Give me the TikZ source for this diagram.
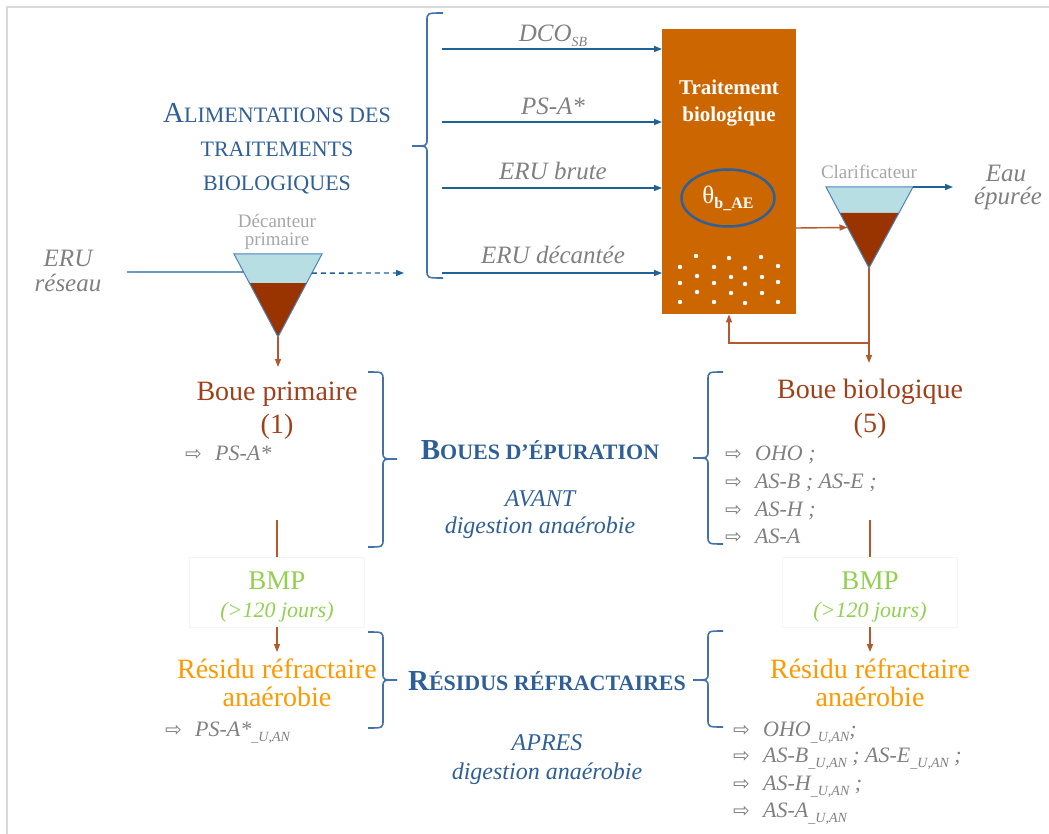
\documentclass[tikz,border=0pt]{standalone}
\usepackage{fontspec}
\setmainfont{Liberation Serif}
\newfontfamily\symfont{DejaVu Sans}
\usetikzlibrary{arrows.meta,shapes.geometric,calc}
\definecolor{framegray}{HTML}{D9D9D9}
\definecolor{titleblue}{HTML}{2F5F97}
\definecolor{arrblue}{HTML}{1F6396}
\definecolor{bracecol}{HTML}{4472A8}
\definecolor{txtgray}{HTML}{808080}
\definecolor{ltgray}{HTML}{A6A6A6}
\definecolor{boxorange}{HTML}{CC6600}
\definecolor{ellblue}{HTML}{2F6196}
\definecolor{lightblue}{HTML}{B7DEE3}
\definecolor{mud}{HTML}{993300}
\definecolor{brtext}{HTML}{A0401A}
\definecolor{brline}{HTML}{B4582E}
\definecolor{bmpgreen}{HTML}{92D050}
\definecolor{resorange}{HTML}{FF9900}
\definecolor{outlineblue}{HTML}{4F81BD}
\definecolor{bmpframe}{HTML}{F5F5F5}
\newcommand{\fs}[2]{\fontsize{#1}{#2}\selectfont}
\newcommand{\Bc}[1]{{\fontsize{29}{30}\selectfont #1}}
\newcommand{\lowsub}[1]{\raisebox{-5pt}{\fs{14}{14}#1}}
\newcommand{\itm}[1]{\makebox[30pt][l]{\symfont\upshape\fs{20}{20}⇨}#1}
\newcommand{\BraceP}[6]{\draw[brace] (#1,#4) .. controls (#2,#4) .. (#2,#4+8) -- (#2,#5-7) .. controls (#2,#5) .. (#3,#5) .. controls (#2,#5) .. (#2,#5+7) -- (#2,#6-8) .. controls (#2,#6) .. (#1,#6);}
\tikzset{
  base/.style={anchor=base, inner sep=0pt},
  lbl/.style={base, text=txtgray, font=\fs{25}{30}\itshape},
  ttl/.style={base, text=titleblue, font=\fs{22}{30}},
  ttlb/.style={base, text=titleblue, font=\fs{22}{30}\bfseries},
  subt/.style={base, text=titleblue, font=\fs{24}{30}\itshape},
  brn/.style={base, text=brtext, font=\fs{28}{30}},
  grn/.style={base, text=bmpgreen, font=\fs{27}{30}},
  grni/.style={base, text=bmpgreen, font=\fs{22}{30}\itshape},
  org/.style={base, text=resorange, font=\fs{28}{30}},
  item/.style={anchor=base west, inner sep=0pt, text=txtgray, font=\fs{22}{26}\itshape},
  small/.style={base, text=ltgray, font=\fs{19}{22}},
  feed/.style={draw=arrblue, line width=1.4pt, -{Triangle[length=8pt,width=6pt]}},
  sludge/.style={draw=brline, line width=1.4pt, -{Triangle[length=8pt,width=6pt]}},
  sludgeline/.style={draw=brline, line width=1.4pt},
  brace/.style={draw=bracecol, line width=1.6pt},
  tank/.style={draw=outlineblue, line width=1pt},
  bmpbox/.style={draw=bmpframe, line width=0.6pt, minimum width=175pt, minimum height=70pt, inner sep=0pt}
}
\begin{document}
\begin{tikzpicture}[x=1pt,y=-1pt]
\useasboundingbox (0,0) rectangle (1049,834);
\draw[framegray, line width=2pt] (1049,7) -- (7,7) -- (7,834);

% ---------- title ----------
\node[ttl] (alim1) at (277,123) {\Bc{A}LIMENTATIONS DES};
\node[ttl] (alim2) at (277,157) {TRAITEMENTS};
\node[ttl] (alim3) at (277,191) {BIOLOGIQUES};
\BraceP{443}{427}{412}{13}{146}{278}

% ---------- biological treatment box ----------
\node[fill=boxorange, minimum width=134pt, minimum height=285pt, inner sep=0pt, anchor=north west] (box) at (662,29) {};
\node[base, text=white, font=\fs{21}{24}\bfseries] (tb1) at (729,95) {Traitement};
\node[base, text=white, font=\fs{21}{24}\bfseries] (tb2) at (729,122) {biologique};
\node[ellipse, draw=ellblue, line width=2.5pt, minimum width=93pt, minimum height=57pt, inner sep=0pt, text=white, font=\fs{25}{25}] (theta) at (728,198) {θ\raisebox{-5pt}{\fs{16}{16}\bfseries b\_AE}};
\foreach \p in {(696,256),(729,258),(761,257),(680,267),(714,267),(745,268),(778,266),(697,276),(731,277),(762,277),(680,283),(714,283),(745,284),(778,282),(697,292),(731,293),(762,293),(680,302),(714,302),(745,303),(778,302)}
  \fill[white] \p circle (2.2pt);

% ---------- feeds ----------
\coordinate (f1) at (442,49);
\coordinate (f2) at (442,122);
\coordinate (f3) at (442,188);
\coordinate (f4) at (442,273);
\draw[feed] (f1) -- (f1 -| box.west);
\draw[feed] (f2) -- (f2 -| box.west);
\draw[feed] (f3) -- (f3 -| box.west);
\draw[feed] (f4) -- (f4 -| box.west);
\node[lbl] (l1) at (553,42) {DCO\lowsub{SB}};
\node[lbl] (l2) at (553,115) {PS-A*};
\node[lbl] (l3) at (553,180) {ERU brute};
\node[lbl] (l4) at (553,264) {ERU décantée};

% ---------- primary settler ----------
\coordinate (d1) at (234,254);
\coordinate (d2) at (322,254);
\coordinate (d3) at (278,337);
\fill[lightblue] (d1) -- (d2) -- ($(d2)!0.35!(d3)$) -- ($(d1)!0.35!(d3)$) -- cycle;
\fill[mud] ($(d1)!0.35!(d3)$) -- ($(d2)!0.35!(d3)$) -- (d3) -- cycle;
\draw[tank] (d1) -- (d2) -- (d3) -- cycle;
\node[small] (dec1) at (277,228) {Décanteur};
\node[small] (dec2) at (277,246) {primaire};
\node[lbl] (eru1) at (68,267) {ERU};
\node[lbl] (eru2) at (68,291) {réseau};
\coordinate (in0) at (127,272);
\draw[draw=arrblue, line width=1.4pt] (in0) -- ($(d1)!0.217!(d3)$);
\coordinate (dsh) at (404,273);
\draw[feed, dash pattern=on 5pt off 4pt] ($(d2)!0.23!(d3)$) -- (dsh);
\coordinate (bp) at (278,367);
\draw[sludge] (d3) -- (bp);

% ---------- clarifier ----------
\coordinate (c1) at (826,187);
\coordinate (c2) at (913,187);
\coordinate (c3) at (869,268);
\fill[lightblue] (c1) -- (c2) -- ($(c2)!0.32!(c3)$) -- ($(c1)!0.32!(c3)$) -- cycle;
\fill[mud] ($(c1)!0.32!(c3)$) -- ($(c2)!0.32!(c3)$) -- (c3) -- cycle;
\draw[tank] (c1) -- (c2) -- (c3) -- cycle;
\node[small] (clar) at (869,179) {Clarificateur};
\coordinate (eau) at (953,187);
\draw[feed] (c2) -- (eau);
\node[lbl] (eau1) at (1006,182) {Eau};
\node[lbl] (eau2) at (1008,205) {épurée};
\coordinate (bx) at (796,228);
\draw[sludge] (bx) -- ($(c1)!0.5!(c3)$);
\coordinate (bb) at (869,363);
\coordinate (jn) at (869,343);
\coordinate (rc) at (729,343);
\draw[sludge] (c3) -- (bb);
\draw[sludge] (jn) -- (rc) -- (rc |- box.south);

% ---------- sludges before digestion ----------
\node[brn] (bp1) at (277,400) {Boue primaire};
\node[brn] (bp2) at (277,433) {(1)};
\node[item] (bpi) at (185,460) {\itm{PS-A*}};
\node[brn] (bb1) at (870,398) {Boue biologique};
\node[brn] (bb2) at (870,432) {(5)};
\node[item] (bbi1) at (725,460) {\itm{OHO ;}};
\node[item] (bbi2) at (725,488) {\itm{AS-B ; AS-E ;}};
\node[item] (bbi3) at (725,516) {\itm{AS-H ;}};
\node[item] (bbi4) at (725,543) {\itm{AS-A}};
\BraceP{368}{383}{397}{372}{459}{547}
\BraceP{723}{708}{693}{372}{458}{544}
\node[ttlb] (boues) at (540,459) {\Bc{B}OUES D’ÉPURATION};
\node[subt] (av1) at (540,506) {AVANT};
\node[subt] (av2) at (540,533) {digestion anaérobie};

% ---------- BMP ----------
\node[bmpbox] (bmpL) at (277,592) {};
\node[bmpbox] (bmpR) at (870,592) {};
\node[grn] (g1) at (277,589) {BMP};
\node[grni] (g2) at (277,617) {(>120 jours)};
\node[grn] (g3) at (870,589) {BMP};
\node[grni] (g4) at (870,617) {(>120 jours)};
\coordinate (vl) at (277,520);
\coordinate (vr) at (870,520);
\draw[sludgeline] (vl) -- (vl |- bmpL.north);
\draw[sludgeline] (vr) -- (vr |- bmpR.north);
\coordinate (rl) at (277,652);
\coordinate (rr) at (870,652);
\draw[sludge] (bmpL.south) -- (rl);
\draw[sludge] (bmpR.south) -- (rr);

% ---------- refractory residues ----------
\node[org] (rl1) at (277,678) {Résidu réfractaire};
\node[org] (rl2) at (277,706) {anaérobie};
\node[org] (rr1) at (870,678) {Résidu réfractaire};
\node[org] (rr2) at (870,706) {anaérobie};
\node[item] (rli) at (165,736) {\itm{PS-A*\lowsub{\_U,AN}}};
\node[item] (rri1) at (733,736) {\itm{OHO\lowsub{\_U,AN};}};
\node[item] (rri2) at (733,762) {\itm{AS-B\lowsub{\_U,AN} ; AS-E\lowsub{\_U,AN} ;}};
\node[item] (rri3) at (733,790) {\itm{AS-H\lowsub{\_U,AN} ;}};
\node[item] (rri4) at (733,817) {\itm{AS-A\lowsub{\_U,AN}}};
\BraceP{368}{383}{397}{632}{680}{728}
\BraceP{723}{708}{693}{631}{680}{727}
\node[ttlb] (res) at (547,690) {\Bc{R}ÉSIDUS RÉFRACTAIRES};
\node[subt] (ap1) at (547,750) {APRES};
\node[subt] (ap2) at (547,779) {digestion anaérobie};
\end{tikzpicture}
\end{document}
